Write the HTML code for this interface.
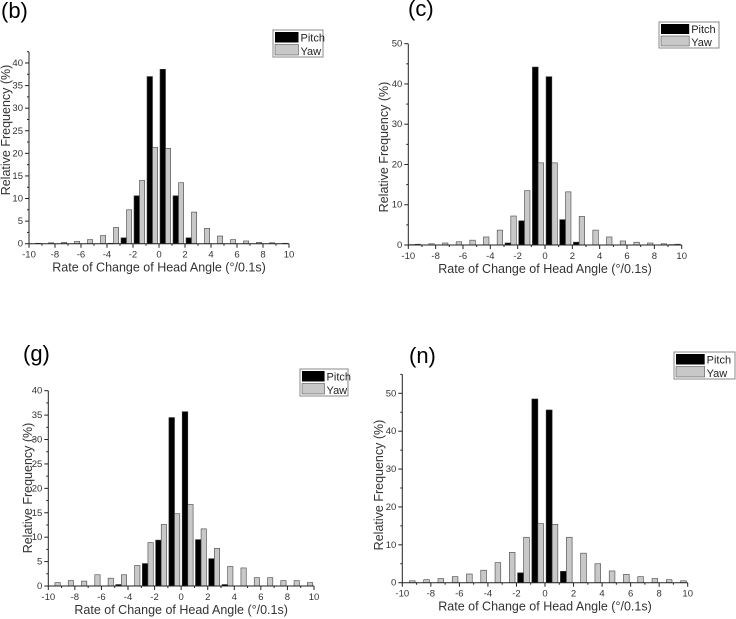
<!DOCTYPE html>
<html><head><meta charset="utf-8">
<style>
html,body{margin:0;padding:0;background:#fff;}
svg{display:block;font-family:"Liberation Sans",Arial,sans-serif;}
</style></head>
<body>
<svg id="chart" width="736" height="619" viewBox="0 0 736 619" xmlns="http://www.w3.org/2000/svg"></svg>
<script>
const binCenters = [-9.5,-8.5,-7.5,-6.5,-5.5,-4.5,-3.5,-2.5,-1.5,-0.5,0.5,1.5,2.5,3.5,4.5,5.5,6.5,7.5,8.5,9.5];
const xTicks = [-10,-8,-6,-4,-2,0,2,4,6,8,10];
const bPitch = [0,0,0,0,0,0,0.1,1.3,10.6,37.0,38.6,10.6,1.3,0,0,0,0,0,0,0];
const bYaw   = [0.1,0.2,0.3,0.5,0.9,1.8,3.6,7.5,14.0,21.3,21.1,13.5,7.0,3.4,1.7,0.9,0.6,0.3,0.2,0.1];
const cPitch = [0.1,0,0,0,0,0,0,0.5,6.0,44.2,41.8,6.3,0.7,0,0,0,0,0,0,0.1];
const cYaw   = [0.2,0.3,0.5,0.8,1.2,2.0,3.7,7.2,13.5,20.4,20.4,13.2,7.1,3.7,2.0,1.0,0.7,0.5,0.3,0.2];
const gPitch = [0,0,0,0,0,0.3,0,4.6,9.4,34.5,35.7,9.5,5.6,0.3,0,0,0,0,0,0];
const gYaw   = [0.7,1.1,1.0,2.3,1.6,2.3,4.2,8.9,12.6,14.8,16.7,11.7,7.7,4.0,3.7,1.7,1.7,1.1,1.1,0.7];
const nPitch = [0,0,0,0,0,0,0,0,2.6,48.5,45.6,3.0,0,0,0,0,0,0,0,0];
const nYaw   = [0.5,0.8,1.1,1.6,2.3,3.3,5.3,8.0,12.0,15.6,15.4,12.0,7.8,5.0,3.1,2.2,1.6,1.1,0.8,0.5];
const bYTicks = [0,5,10,15,20,25,30,35,40];
const cYTicks = [0,10,20,30,40,50];
const gYTicks = [0,5,10,15,20,25,30,35,40];
const nYTicks = [0,10,20,30,40,50];

const NS = "http://www.w3.org/2000/svg";
const svg = document.getElementById('chart');
function mk(tag, attrs, parent){
  const e = document.createElementNS(NS, tag);
  for (const k in attrs) e.setAttribute(k, attrs[k]);
  (parent||svg).appendChild(e);
  return e;
}
function panel(id, label, geo, pitch, yaw, yTicks, yMax, yMinorStep){
  const g = mk('g', {});
  
  
  const xs = v => geo.x0 + (v + 10) / 20 * (geo.x1 - geo.x0);
  const ys = v => geo.y0 - v / geo.yRef * (geo.y0 - geo.yRefPx);
  const t = mk('text', {x: geo.lx, y: geo.ly, 'font-size': 22, fill: '#000'}, g);
  t.textContent = '(' + label + ')';
  
  
  binCenters.forEach((c, i) => {
    if (pitch[i] > 0) {
      const r = mk('rect', {x: xs(c - 0.42), y: ys(pitch[i]), width: xs(c) - xs(c - 0.42), height: ys(0) - ys(pitch[i]), fill: '#000', stroke: '#333', 'stroke-width': 0.6}, g);
      
      
    }
    if (yaw[i] > 0) {
      const r = mk('rect', {x: xs(c), y: ys(yaw[i]), width: xs(c + 0.4) - xs(c), height: ys(0) - ys(yaw[i]), fill: '#c8c8c8', stroke: '#444', 'stroke-width': 0.6}, g);
      
      
    }
  });
  const ax = mk('g', {stroke: '#222', 'stroke-width': 1}, g);
  
  
  mk('line', {x1: geo.x0, y1: ys(0), x2: geo.x1, y2: ys(0)}, ax);
  mk('line', {x1: geo.x0, y1: ys(0), x2: geo.x0, y2: ys(yMax)}, ax);
  for (let v = -10; v <= 10; v++) {
    const len = v % 2 === 0 ? 4 : 2;
    mk('line', {x1: xs(v), y1: ys(0), x2: xs(v), y2: ys(0) + len}, ax);
  }
  for (let v = 0; v <= yMax + 0.001; v += yMinorStep) {
    const major = yTicks.indexOf(Math.round(v*10)/10) >= 0;
    mk('line', {x1: geo.x0, y1: ys(v), x2: geo.x0 - (major ? 4 : 2), y2: ys(v)}, ax);
  }
  xTicks.forEach(v => {
    const tl = mk('text', {x: xs(v), y: ys(0) + 14, 'font-size': 9.5, 'text-anchor': 'middle', fill: '#333'}, g);
    tl.textContent = v;
    
    
  });
  yTicks.forEach(v => {
    const tl = mk('text', {x: geo.x0 - 6, y: ys(v) + 3, 'font-size': 9.5, 'text-anchor': 'end', fill: '#333'}, g);
    tl.textContent = v;
    
    
  });
  const xt = mk('text', {x: (geo.x0 + geo.x1) / 2, y: ys(0) + 28, 'font-size': 12.5, 'text-anchor': 'middle', fill: '#333'}, g);
  xt.textContent = 'Rate of Change of Head Angle (\u00B0/0.1s)';
  
  
  const ymid = geo.ytm;
  const yt = mk('text', {x: geo.ytx, y: ymid, 'font-size': 12.5, 'text-anchor': 'middle', fill: '#333', transform: 'rotate(-90 ' + geo.ytx + ' ' + ymid + ')'}, g);
  yt.textContent = 'Relative Frequency (%)';
  
  
  const lg = mk('g', {}, g);
  
  
  const L = geo.leg, lh = (L[3] - L[1]) / 2;
  mk('rect', {x: L[0], y: L[1], width: L[2] - L[0], height: L[3] - L[1], fill: '#fff', stroke: '#888', 'stroke-width': 1}, lg);
  const sw = (L[2] - L[0]) * 0.47;
  mk('rect', {x: L[0] + 2, y: L[1] + 2, width: sw, height: lh - 3, fill: '#000'}, lg);
  mk('rect', {x: L[0] + 2, y: L[1] + lh + 1, width: sw, height: lh - 3, fill: '#c8c8c8', stroke: '#555', 'stroke-width': 0.6}, lg);
  const p = mk('text', {x: L[0] + sw + 4, y: L[1] + lh - 2, 'font-size': 11, fill: '#222'}, lg);
  p.textContent = 'Pitch';
  
  
  const yw = mk('text', {x: L[0] + sw + 4, y: L[1] + 2 * lh - 2, 'font-size': 11, fill: '#222'}, lg);
  yw.textContent = 'Yaw';
  
  
}
panel('b', 'b', {x0: 29, x1: 289, y0: 243.7, yRef: 40, yRefPx: 63, lx: 1, ly: 18, ytx: 10, ytm: 130, leg: [273, 30, 323, 57]}, bPitch, bYaw, bYTicks, 42.5, 2.5);
panel('c', 'c', {x0: 408.3, x1: 681.7, y0: 245, yRef: 50, yRefPx: 43.7, lx: 408, ly: 16, ytx: 388, ytm: 147, leg: [659, 22, 719, 48]}, cPitch, cYaw, cYTicks, 50, 5);
panel('g', 'g', {x0: 48.3, x1: 314, y0: 586, yRef: 40, yRefPx: 390.7, lx: 23, ly: 361, ytx: 32, ytm: 488, leg: [300, 369, 348, 396]}, gPitch, gYaw, gYTicks, 40, 2.5);
panel('n', 'n', {x0: 402.3, x1: 687.7, y0: 582.7, yRef: 50, yRefPx: 393.3, lx: 409, ly: 363, ytx: 383, ytm: 485, leg: [674, 352, 735, 379]}, nPitch, nYaw, nYTicks, 55, 5);
</script>
</body></html>
